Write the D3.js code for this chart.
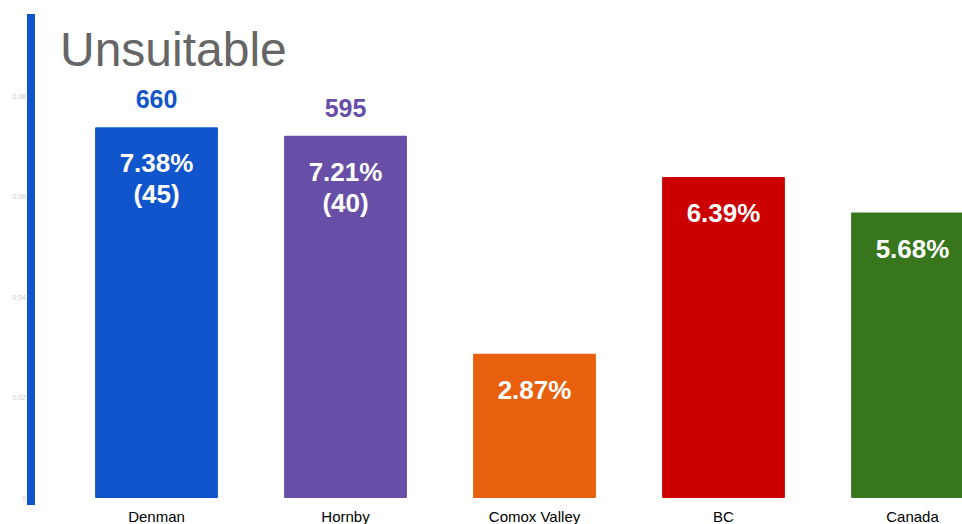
<!DOCTYPE html>
<html>
<head>
<meta charset="utf-8">
<script src="https://cdn.jsdelivr.net/npm/d3@7/dist/d3.min.js"></script>
<style>
  html, body { margin: 0; padding: 0; background: #fff; overflow: hidden; }
  svg { display: block; font-family: "Liberation Sans", Arial, sans-serif; }
</style>
</head>
<body>
<svg id="chart" width="962" height="524"></svg>
<script>
// Share of dwellings rated unsuitable, by area
const categories = ["Denman", "Hornby", "Comox Valley", "BC", "Canada"];
const shares = [0.0738, 0.0721, 0.0287, 0.0639, 0.0568];
const shareLabels = ["7.38%", "7.21%", "2.87%", "6.39%", "5.68%"];
const counts = [45, 40, null, null, null];
const totals = [660, 595, null, null, null];
const colors = ["#1155cc", "#674ea7", "#e8600e", "#cc0000", "#38761d"];
const yTicks = [0, 0.02, 0.04, 0.06, 0.08];

const svg = d3.select("#chart");

const x = d3.scaleBand()
  .domain(categories)
  .range([62, 1007])
  .paddingInner(0.35)
  .paddingOuter(0.175);

const y = d3.scaleLinear()
  .domain([0, 0.08])
  .range([498, 96]);

// Faint value axis labels
const yAxis = d3.axisLeft(y)
  .tickValues(yTicks)
  .tickSize(0)
  .tickPadding(0)
  .tickFormat(d => d === 0 ? "0" : d3.format(".2f")(d));

svg.append("g")
  .attr("transform", "translate(26,0)")
  .call(yAxis)
  .call(g => g.select(".domain").remove())
  .call(g => g.selectAll("text")
    .attr("fill", "#c8c8c8")
    .attr("font-size", 7)
    .attr("font-family", "Liberation Sans, Arial, sans-serif"));

// Accent rule on the left
svg.append("rect")
  .attr("x", 27).attr("y", 14)
  .attr("width", 8).attr("height", 491)
  .attr("fill", "#1155cc");

// Title
svg.append("text")
  .attr("x", 60).attr("y", 66)
  .attr("font-size", 48)
  .attr("fill", "#666666")
  .text("Unsuitable");

const rows = categories.map((c, i) => ({
  c, v: shares[i], lab: shareLabels[i], n: counts[i], tot: totals[i], col: colors[i]
}));

// Bars
svg.append("g").selectAll("rect")
  .data(rows)
  .join("rect")
  .attr("x", d => x(d.c))
  .attr("y", d => y(d.v))
  .attr("width", x.bandwidth())
  .attr("height", d => y(0) - y(d.v))
  .attr("rx", 1)
  .attr("fill", d => d.col);

// Percentages inside bars
const inner = svg.append("g")
  .attr("font-weight", "bold")
  .attr("font-size", 26)
  .attr("fill", "#ffffff")
  .attr("text-anchor", "middle");

inner.selectAll("text.pct")
  .data(rows)
  .join("text")
  .attr("class", "pct")
  .attr("x", d => x(d.c) + x.bandwidth() / 2)
  .attr("y", d => y(d.v) + 45)
  .text(d => d.lab);

inner.selectAll("text.cnt")
  .data(rows.filter(d => d.n != null))
  .join("text")
  .attr("class", "cnt")
  .attr("x", d => x(d.c) + x.bandwidth() / 2)
  .attr("y", d => y(d.v) + 76)
  .text(d => `(${d.n})`);

// Totals above bars
svg.append("g")
  .attr("font-weight", "bold")
  .attr("font-size", 25)
  .attr("text-anchor", "middle")
  .selectAll("text")
  .data(rows.filter(d => d.tot != null))
  .join("text")
  .attr("x", d => x(d.c) + x.bandwidth() / 2)
  .attr("y", d => y(d.v) - 19)
  .attr("fill", d => d.col)
  .text(d => d.tot);

// Category axis
const xAxis = d3.axisBottom(x).tickSize(0).tickPadding(0);
svg.append("g")
  .attr("transform", "translate(0,509)")
  .call(xAxis)
  .call(g => g.select(".domain").remove())
  .call(g => g.selectAll("text")
    .attr("fill", "#000")
    .attr("font-size", 15)
    .attr("dy", "0.85em")
    .attr("font-family", "Liberation Sans, Arial, sans-serif"));
</script>
</body>
</html>
